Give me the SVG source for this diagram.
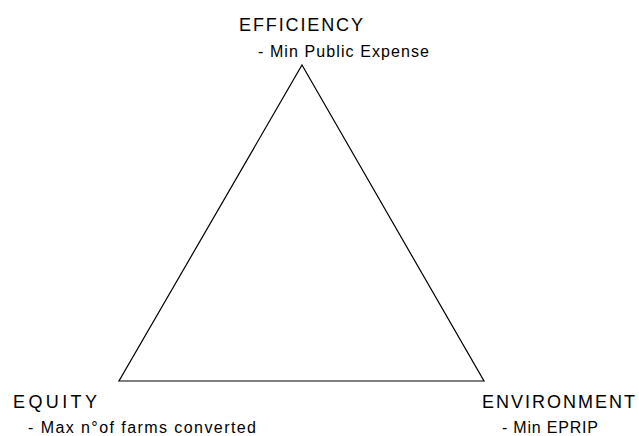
<svg xmlns="http://www.w3.org/2000/svg" width="639" height="436" viewBox="0 0 639 436">
<style>
.t{font-family:"Liberation Sans",Arial,sans-serif;fill:#000}
.h{font-size:18px}
.s{font-size:16px}
</style>
<rect width="639" height="436" fill="#fff"/>
<g id="connectors">
<polygon points="302,65 484,381 119,381" fill="none" stroke="#000" stroke-width="1.2"/>
</g>
<g id="efficiency">
<text class="t h" x="239" y="31" textLength="124" lengthAdjust="spacing">EFFICIENCY</text>
<text class="t s" x="258" y="57" textLength="171" lengthAdjust="spacing">- Min Public Expense</text>
</g>
<g id="equity">
<text class="t h" x="13" y="407.5" textLength="84" lengthAdjust="spacing">EQUITY</text>
<text class="t s" x="28" y="433" textLength="228" lengthAdjust="spacing">- Max n°of farms converted</text>
</g>
<g id="environment">
<text class="t h" x="482" y="407.5" textLength="153" lengthAdjust="spacing">ENVIRONMENT</text>
<text class="t s" x="502" y="433" textLength="96" lengthAdjust="spacing">- Min EPRIP</text>
</g>
</svg>
